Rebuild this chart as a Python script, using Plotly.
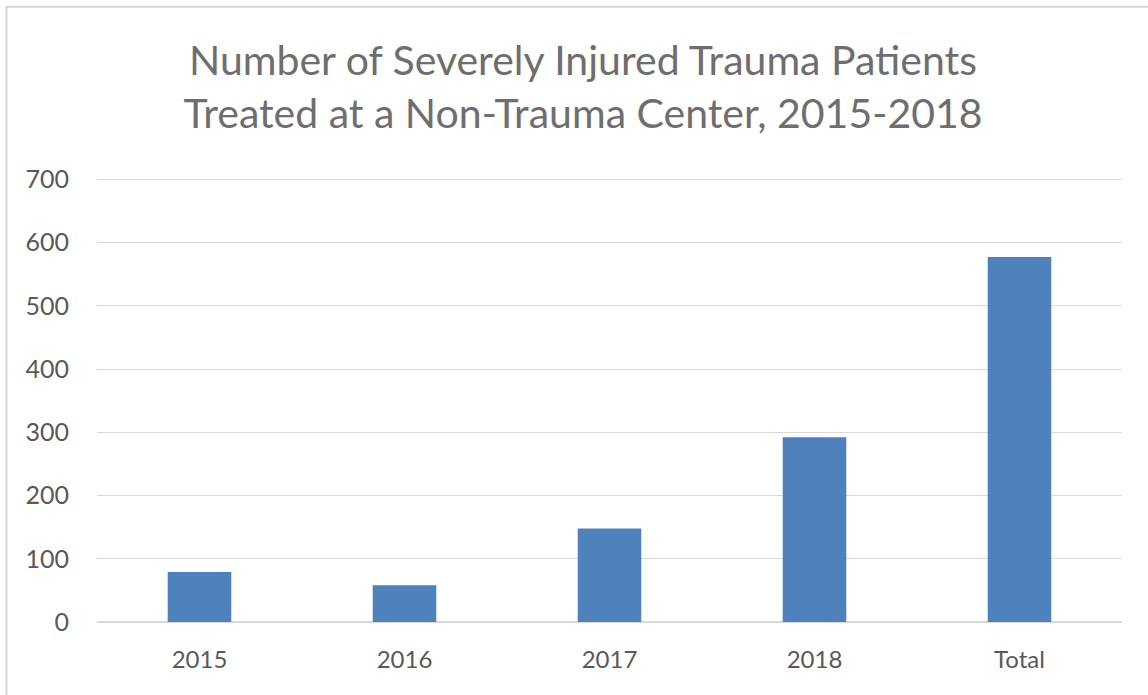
import plotly.graph_objects as go

# Severely injured trauma patients treated at a non-trauma center
categories = ["2015", "2016", "2017", "2018", "Total"]
patients = [79, 58, 148, 292, 577]
y_ticks = [0, 100, 200, 300, 400, 500, 600, 700]

W, H = 1148, 695
Y_MAX = 702                      # a little headroom so the 700 gridline is drawn
ZERO_PX, TOP_PX = 622.5, 179.3   # pixel rows of 0 and 700
px_per_unit = (ZERO_PX - TOP_PX) / 700
L, R = 97, 26
B = H - ZERO_PX
T = ZERO_PX - Y_MAX * px_per_unit
plot_w = W - L - R
plot_h = H - T - B

TEXT = "#595959"
TITLE = "#6e6e6e"
GRID = "#d9d9d9"
FONT = "Lato, 'Open Sans', sans-serif"

fig = go.Figure(
    go.Bar(
        x=categories,
        y=patients,
        marker=dict(color="#4f81bd", line=dict(width=0)),
        width=0.31,
        hoverinfo="x+y",
    )
)


def px_to_paper_x(px):
    return (px - L) / plot_w


def px_to_paper_y(py):
    return (H - B - py) / plot_h


# outer chart-area frame (runs off the right and bottom edges)
fig.add_shape(
    type="rect",
    xref="paper", yref="paper",
    x0=px_to_paper_x(6.5), x1=px_to_paper_x(1170),
    y0=px_to_paper_y(720), y1=px_to_paper_y(6.5),
    line=dict(color=GRID, width=2),
    fillcolor="rgba(0,0,0,0)",
    layer="below",
)

fig.update_layout(
    width=W,
    height=H,
    margin=dict(l=L, r=R, t=T, b=B, pad=0),
    paper_bgcolor="white",
    plot_bgcolor="white",
    showlegend=False,
    font=dict(family=FONT, color=TEXT),
    title=dict(
        text="Number of Severely Injured Trauma Patients<br>Treated at a Non-Trauma Center, 2015-2018",
        x=583 / W,
        xref="container",
        xanchor="center",
        y=1 - 75 / H,
        yref="container",
        yanchor="middle",
        font=dict(family=FONT, size=41, color=TITLE),
    ),
    xaxis=dict(
        showgrid=False,
        showline=False,
        ticks="",
        tickfont=dict(size=24, color=TEXT),
        ticklabelstandoff=21,
    ),
    yaxis=dict(
        range=[0, Y_MAX],
        tickvals=y_ticks,
        showgrid=True,
        gridcolor=GRID,
        gridwidth=1.3,
        zeroline=True,
        zerolinecolor=GRID,
        zerolinewidth=2,
        showline=False,
        ticks="",
        tickfont=dict(size=25, color=TEXT),
        ticklabelstandoff=27,
    ),
)

fig.write_html("out.html")
